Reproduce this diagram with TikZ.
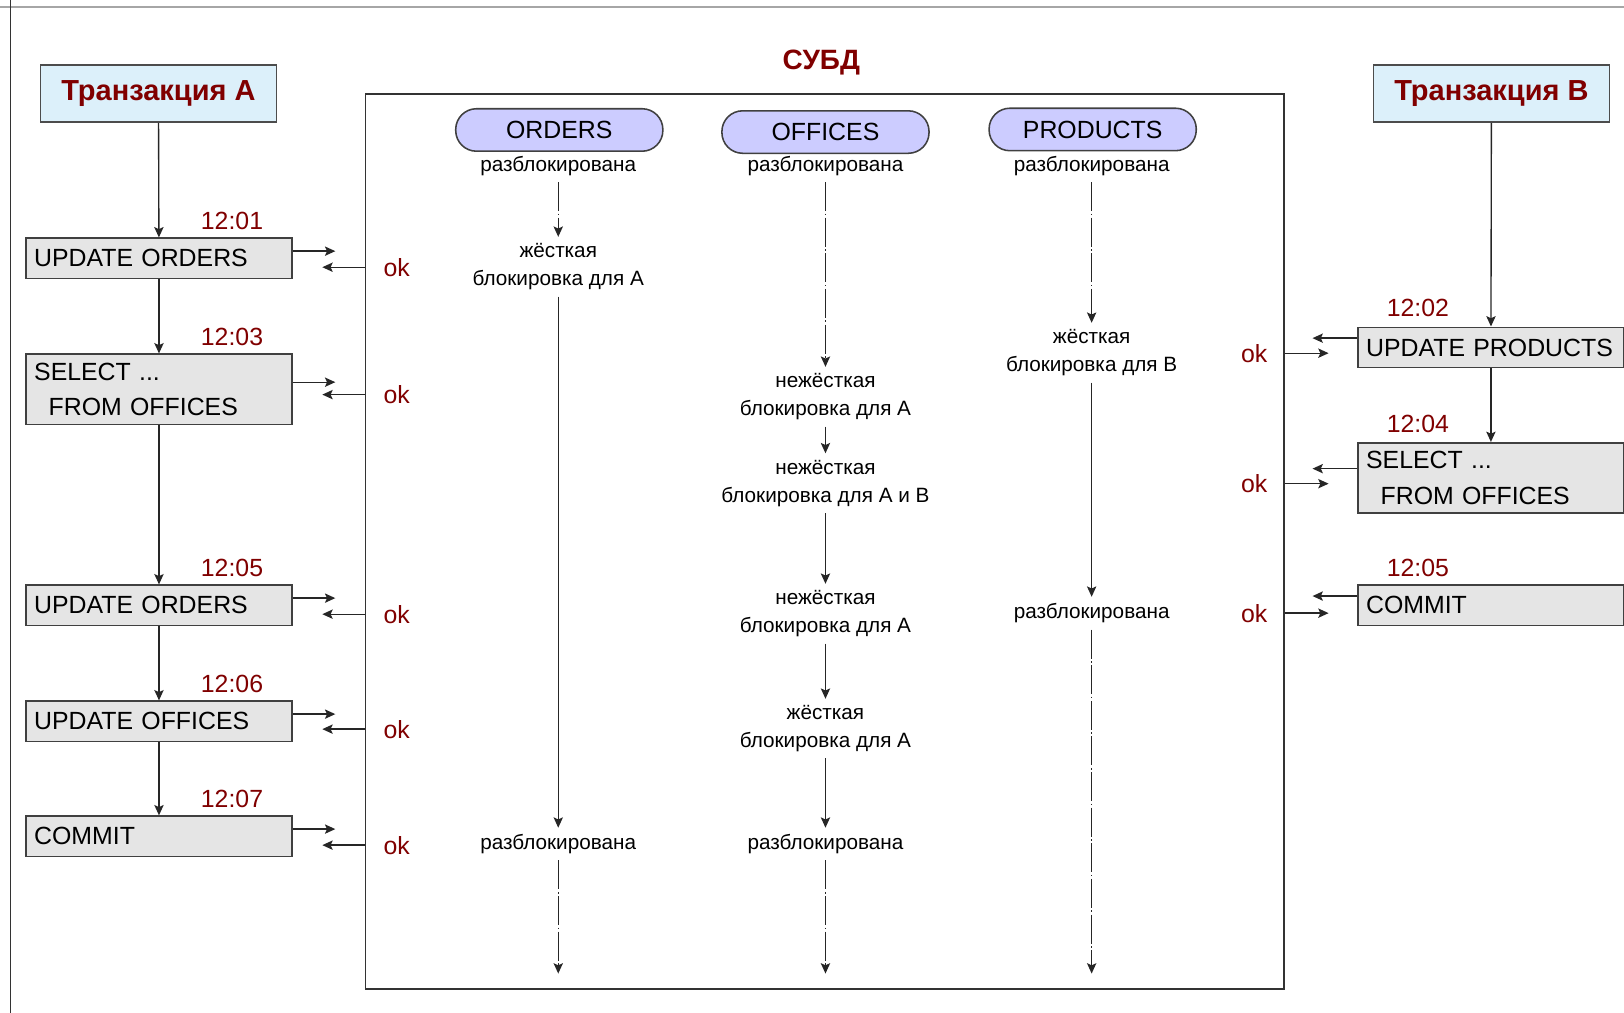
\documentclass[tikz,border=0pt]{standalone}
\usepackage{fontspec}
\setmainfont{Liberation Sans}
\usetikzlibrary{arrows.meta}
\definecolor{darkred}{HTML}{800000}
\definecolor{txblue}{HTML}{DCF0FA}
\definecolor{tblviolet}{HTML}{CCCCFF}
\begin{document}
\begin{tikzpicture}[x=0.5pt,y=0.5pt,
  flow/.style={-{Stealth[length=5pt,width=4.5pt,inset=1pt]},line width=0.65pt,black!85},
  flowdot/.style={flow,dash pattern=on 14pt off 1.2pt on 0.8pt off 1.2pt},
  title/.style={draw=black!70,line width=0.75pt,fill=txblue,minimum width=114pt,minimum height=27.5pt,font=\fontsize{14}{16}\selectfont\bfseries,text=darkred},
  opbox/.style={draw=black!75,line width=0.75pt,fill=black!10,minimum width=128.5pt,minimum height=19.5pt,text width=120.5pt,inner xsep=4pt,align=left,font=\fontsize{12}{17}\selectfont},
  pill/.style={draw=black!75,line width=0.75pt,fill=tblviolet,rounded corners=10pt,minimum width=100pt,minimum height=20.5pt,font=\fontsize{12}{14}\selectfont},
  state/.style={align=center,inner sep=3pt,font=\fontsize{10}{13.5}\selectfont},
  time/.style={text=darkred,font=\fontsize{12}{14}\selectfont},
  ok/.style={text=darkred,font=\fontsize{12}{14}\selectfont}]
\useasboundingbox (0,0) rectangle (1568,-978);
\draw[black!35,line width=1pt] (0,-6.5) -- (1568,-6.5);
\draw[black!80,line width=0.75pt] (10,0) -- (10,-978);

\node[draw=black!80,line width=0.8pt,minimum width=443.5pt,minimum height=432pt,inner sep=0pt] (dbms) at (796.5,-523) {};
\node[text=darkred,font=\fontsize{13.5}{16}\selectfont\bfseries] (dbmsname) at (793,-60) {СУБД};

\node[title] (ta) at (153,-90.5) {Транзакция А};
\node[title] (tb) at (1440,-90.5) {Транзакция В};

\node[opbox] (a1) at (153.5,-249.5) {UPDATE ORDERS};
\node[opbox,minimum height=34pt] (a2) at (153.5,-376) {SELECT ...\\\hspace*{7pt}FROM OFFICES};
\node[opbox] (a3) at (153.5,-584.5) {UPDATE ORDERS};
\node[opbox] (a4) at (153.5,-696.5) {UPDATE OFFICES};
\node[opbox] (a5) at (153.5,-807.5) {COMMIT};
\node[time] (ta1) at (224,-213) {12:01};
\node[time] (ta2) at (224,-325) {12:03};
\node[time] (ta3) at (224,-548) {12:05};
\node[time] (ta4) at (224,-660) {12:06};
\node[time] (ta5) at (224,-771) {12:07};

\node[opbox] (b1) at (1439.5,-335.5) {UPDATE PRODUCTS};
\node[opbox,minimum height=34pt] (b2) at (1439.5,-461.5) {SELECT ...\\\hspace*{7pt}FROM OFFICES};
\node[opbox] (b3) at (1439.5,-584.5) {COMMIT};
\node[time] (tb1) at (1369,-297) {12:02};
\node[time] (tb2) at (1369,-409) {12:04};
\node[time] (tb3) at (1369,-548) {12:05};

\draw[flow] (ta) -- (a1);
\draw[flow] (a1) -- (a2);
\draw[flow] (a2) -- (a3);
\draw[flow] (a3) -- (a4);
\draw[flow] (a4) -- (a5);
\draw[flow] (tb) -- (b1);
\draw[flow] (b1) -- (b2);

\node[ok] (oka1) at (383,-258) {ok};
\node[ok] (oka2) at (383,-381) {ok};
\node[ok] (oka3) at (383,-593) {ok};
\node[ok] (oka4) at (383,-704) {ok};
\node[ok] (oka5) at (383,-816) {ok};
\foreach \i in {1,...,5}{
  \draw[flow] ([yshift=3.5pt]a\i.east) -- ++(41,0);
  \draw[flow] (dbms.west |- oka\i) -- ++(-41,0);
}
\node[ok] (okb1) at (1211,-341) {ok};
\node[ok] (okb2) at (1211,-467) {ok};
\node[ok] (okb3) at (1211,-592) {ok};
\foreach \i in {1,2,3}{
  \draw[flow] ([yshift=4.5pt]b\i.west) -- ++(-43,0);
  \draw[flow] (dbms.east |- okb\i) -- ++(42,0);
}

\node[pill] (orders) at (540,-125.5) {ORDERS};
\node[pill] (offices) at (797,-127.5) {OFFICES};
\node[pill] (products) at (1055,-125) {PRODUCTS};

\node[state] (o0) at (539,-160) {разблокирована};
\node[state] (o1) at (539,-257.5) {жёсткая\\блокировка для А};
\node[state] (o2) at (539,-815) {разблокирована};
\coordinate (o3) at (539,-940);
\draw[flowdot] (o0) -- (o1);
\draw[flow] (o1) -- (o2);
\draw[flowdot] (o2) -- (o3);

\node[state] (f0) at (797,-160) {разблокирована};
\node[state] (f1) at (797,-383) {нежёсткая\\блокировка для А};
\node[state] (f2) at (797,-466.5) {нежёсткая\\блокировка для А и В};
\node[state] (f3) at (797,-592.5) {нежёсткая\\блокировка для А};
\node[state] (f4) at (797,-703.5) {жёсткая\\блокировка для А};
\node[state] (f5) at (797,-815) {разблокирована};
\coordinate (f6) at (797,-940);
\draw[flowdot] (f0) -- (f1);
\draw[flow] (f1) -- (f2);
\draw[flow] (f2) -- (f3);
\draw[flow] (f3) -- (f4);
\draw[flow] (f4) -- (f5);
\draw[flowdot] (f5) -- (f6);

\node[state] (p0) at (1054,-160) {разблокирована};
\node[state] (p1) at (1054,-340.5) {жёсткая\\блокировка для В};
\node[state] (p2) at (1054,-592) {разблокирована};
\coordinate (p3) at (1054,-940);
\draw[flowdot] (p0) -- (p1);
\draw[flow] (p1) -- (p2);
\draw[flowdot] (p2) -- (p3);
\end{tikzpicture}
\end{document}
